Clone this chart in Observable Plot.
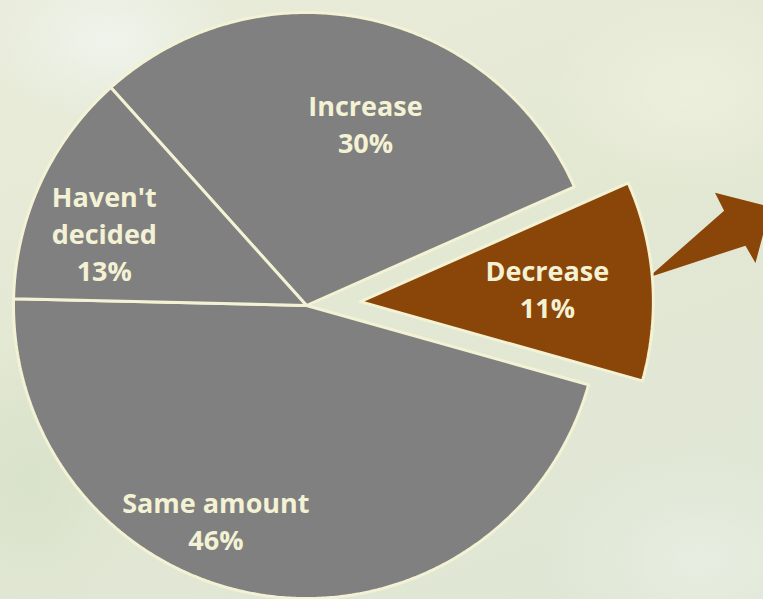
<!DOCTYPE html>
<html><head><meta charset="utf-8">
<script src="https://cdn.jsdelivr.net/npm/d3@7"></script>
<script src="https://cdn.jsdelivr.net/npm/@observablehq/plot@0.6"></script>
<style>
html,body{margin:0;padding:0;width:763px;height:599px;overflow:hidden;}
body{
  background:
    radial-gradient(ellipse 180px 120px at 110px 40px, rgba(240,244,238,0.9), rgba(240,244,238,0) 70%),
    radial-gradient(ellipse 200px 140px at 690px 90px, rgba(238,240,222,0.9), rgba(238,240,222,0) 70%),
    radial-gradient(ellipse 220px 160px at 700px 560px, rgba(232,238,226,0.9), rgba(232,238,226,0) 70%),
    radial-gradient(ellipse 160px 200px at 30px 480px, rgba(214,224,200,0.8), rgba(214,224,200,0) 70%),
    linear-gradient(160deg, #e9ecda 0%, #e3e8d3 45%, #dfe6d5 100%);
}
#chart svg{display:block;}
</style></head><body><div id="chart"></div>
<script>
// ---- data ----
const categories = ["Increase", "Decrease", "Same amount", "Haven't decided"];
const shares = [30, 11, 46, 13];
const labelLines = ["Increase\n30%", "Decrease\n11%", "Same amount\n46%", "Haven't\ndecided\n13%"];
const sliceColors = ["#808080", "#8a4508", "#808080", "#808080"];

// ---- layout ----
const W = 763, H = 599, cx = 306, cy = 305, R = 293;
const startDeg = -41.9;
const explode = [0, 54, 0, 0];
const labelAngle = [17.9, 85.7, 202.9, 289.9];
const labelDist = [0.655, 0.64, 0.795, 0.734];
const cream = "#f4f2d4";
const brown = "#8a4508";

const rad = d => d * Math.PI / 180;
const start = rad(startDeg);
const arcs = d3.pie().sort(null).value(d => d).startAngle(start).endAngle(start + 2 * Math.PI)(shares);
const pt = (ox, oy, a, r) => [ox + r * Math.sin(a), oy - r * Math.cos(a)];

const poly = [];
const labels = [];
let decCenter = null;
arcs.forEach((a, i) => {
  const mid = (a.startAngle + a.endAngle) / 2;
  const [ox, oy] = pt(cx, cy, mid, explode[i]);
  const pts = [[ox, oy]];
  const n = Math.max(8, Math.ceil((a.endAngle - a.startAngle) / rad(0.5)));
  for (let k = 0; k <= n; k++) {
    const t = a.startAngle + (a.endAngle - a.startAngle) * k / n;
    pts.push(pt(ox, oy, t, R));
  }
  pts.push([ox, oy]);
  pts.push(pts[1]);
  pts.forEach(([x, y]) => poly.push({slice: categories[i], color: sliceColors[i], x, y}));
  const [lx, ly] = pt(ox, oy, rad(labelAngle[i]), labelDist[i] * R);
  labels.push({x: lx, y: ly, text: labelLines[i]});
  if (categories[i] === "Decrease") decCenter = [ox, oy];
});

// arrow leaving the Decrease slice (shape in local along/perp units)
const arrowBaseAngle = 85.2, arrowHeading = 60;
const arrowShape = [[0, 0], [99, 20], [100, 40], [141, 0], [100, -41], [100, -21], [0, 0]];
const [bx, by] = pt(decCenter[0], decCenter[1], rad(arrowBaseAngle), R - 4);
const h = rad(arrowHeading);
const u = [Math.sin(h), -Math.cos(h)], nv = [-Math.cos(h), -Math.sin(h)];
const arrowPts = arrowShape.map(([a, p]) => ({x: bx + a * u[0] + p * nv[0], y: by + a * u[1] + p * nv[1]}));

const chart = Plot.plot({
  width: W, height: H, margin: 0,
  x: {domain: [0, W], range: [0, W], axis: null},
  y: {domain: [0, H], range: [0, H], axis: null},
  color: {type: "identity"},
  style: {background: "transparent", overflow: "visible"},
  marks: [
    Plot.line(arrowPts, {x: "x", y: "y", fill: brown, stroke: "none", curve: "linear"}),
    Plot.line(poly, {x: "x", y: "y", z: "slice", fill: "color", stroke: cream, strokeWidth: 3, strokeLinejoin: "miter", curve: "linear"}),
    Plot.text(labels, {x: "x", y: "y", text: "text", fill: cream, fontSize: 27, fontWeight: "bold",
      fontFamily: "'Open Sans', sans-serif", lineHeight: 1.37})
  ]
});
document.getElementById("chart").appendChild(chart);
</script>
</body></html>
